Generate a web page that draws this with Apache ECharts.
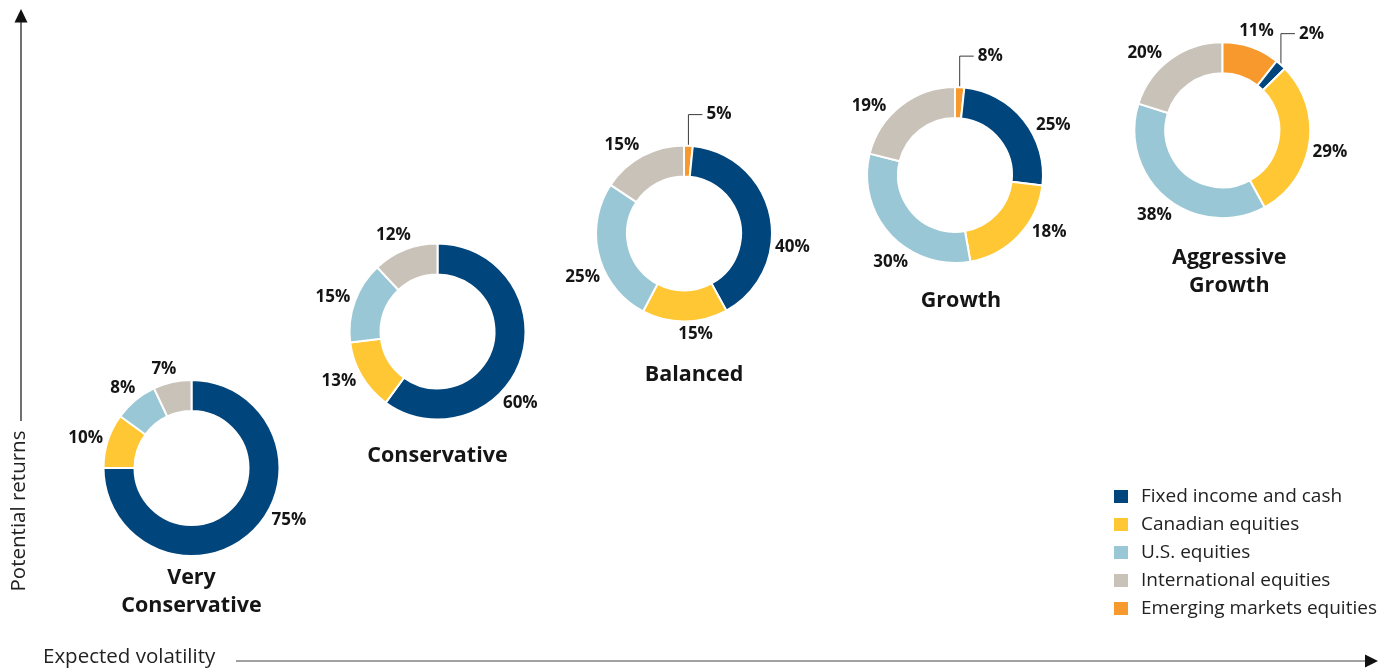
<!DOCTYPE html>
<html>
<head>
<meta charset="utf-8">
<script src="https://cdn.jsdelivr.net/npm/echarts@6/dist/echarts.min.js"></script>
<style>
html,body{margin:0;padding:0;background:#fff;}
#chart{width:1388px;height:669px;}
</style>
</head>
<body>
<div id="chart"></div>
<script>
// ---------------- DATA ----------------
const categories = ['Fixed income and cash', 'Canadian equities', 'U.S. equities', 'International equities', 'Emerging markets equities'];
const portfolios = ['Very\nConservative', 'Conservative', 'Balanced', 'Growth', 'Aggressive\nGrowth'];
// slice sizes (as drawn), in category order
const veryConservative = [75, 10, 8, 7, 0];
const conservative     = [60, 13, 15, 12, 0];
const balanced         = [40.4, 15.7, 26.6, 15.7, 1.6];
const growth           = [25.2, 20.3, 31.7, 21.1, 1.7];
const aggressiveGrowth = [2.0, 29.4, 37.9, 20.1, 10.6];
// printed labels, in category order
const veryConservativeLabels = ['75%', '10%', '8%', '7%', ''];
const conservativeLabels     = ['60%', '13%', '15%', '12%', ''];
const balancedLabels         = ['40%', '15%', '25%', '15%', '5%'];
const growthLabels           = ['25%', '18%', '30%', '19%', '8%'];
const aggressiveGrowthLabels = ['2%', '29%', '38%', '20%', '11%'];
const axisTitles = { y: 'Potential returns', x: 'Expected volatility' };

// ---------------- STYLE / LAYOUT ----------------
const colors = ['#00457C', '#FFC734', '#9AC7D5', '#C9C2B8', '#F7992C'];
const drawOrder = [4, 0, 1, 2, 3]; // emerging first, then fixed income, ...
const centers = [[191.5, 468], [437.5, 331.5], [684, 233.5], [955, 175], [1222.3, 130.3]];
const R_OUT = 88, R_IN = 57;
const titleTops = [564, 442, 361, 287, 244];
const titleShiftX = [0, 0, 10, 6, 7];
// label angle adjustments (deg, relative to slice middle), category order
const labelShift = [
  [-17, -2, -1, -3, 0],
  [23, 4, -1.6, -3, 0],
  [18.6, -6, -8.8, -6.8, 0],
  [11.5, -12, -10.5, -13.5, 0],
  [0, 3, -0.7, -9, 0]
];
// which category uses a callout line in each portfolio
const callout = [-1, -1, 4, 4, 0];
const FONT = '"Open Sans", Lato, sans-serif';

const sliceSets = [veryConservative, conservative, balanced, growth, aggressiveGrowth];
const labelSets = [veryConservativeLabels, conservativeLabels, balancedLabels, growthLabels, aggressiveGrowthLabels];

const chart = echarts.init(document.getElementById('chart'), null, { renderer: 'canvas' });

const series = sliceSets.map(function (vals, si) {
  const data = [];
  drawOrder.forEach(function (ci) {
    if (vals[ci] > 0) {
      const isCallout = callout[si] === ci;
      data.push({
        name: categories[ci],
        value: vals[ci],
        catIndex: ci,
        labelText: labelSets[si][ci],
        itemStyle: { color: colors[ci] },
        labelLine: { lineStyle: { opacity: isCallout ? 1 : 0 } }
      });
    }
  });
  return {
    type: 'pie',
    name: portfolios[si],
    center: centers[si],
    radius: [R_IN, R_OUT],
    startAngle: 90,
    clockwise: true,
    avoidLabelOverlap: false,
    animation: false,
    silent: true,
    itemStyle: { borderColor: '#ffffff', borderWidth: 2 },
    label: {
      show: true,
      position: 'outside',
      formatter: function (p) { return p.data.labelText; },
      fontFamily: FONT,
      fontWeight: 'bold',
      fontSize: 17,
      color: '#151515'
    },
    labelLine: { show: true, length: 10, length2: 0, lineStyle: { color: '#3a3a3a', width: 1 } },
    labelLayout: function (p) {
      const pts = p.labelLinePoints;
      if (!pts) return {};
      const c = centers[si];
      const dx = pts[0][0] - c[0], dy = pts[0][1] - c[1];
      const mid = Math.atan2(dx, -dy); // clockwise from top
      const item = series[si].data[p.dataIndex];
      const ci = item.catIndex;
      if (callout[si] === ci) {
        const x0 = c[0] + Math.sin(mid) * R_OUT, y0 = c[1] - Math.cos(mid) * R_OUT;
        const yTop = y0 - 31;
        const x1 = x0 + 14;
        return {
          x: x1 + 4, y: yTop, align: 'left', verticalAlign: 'middle',
          labelLinePoints: [[x0, y0], [x0, yTop], [x1, yTop]]
        };
      }
      const a = mid + labelShift[si][ci] * Math.PI / 180;
      const ux = Math.sin(a), uy = -Math.cos(a);
      const w = p.labelRect.width, h = p.labelRect.height;
      const ext = Math.abs(ux) * w / 2 + Math.abs(uy) * h / 2;
      const r = R_OUT + 3 + ext;
      return { x: c[0] + ux * r, y: c[1] + uy * r, align: 'center', verticalAlign: 'middle' };
    },
    data: data
  };
});

const graphics = [];
portfolios.forEach(function (name, i) {
  graphics.push({
    type: 'text',
    x: centers[i][0] + titleShiftX[i],
    y: titleTops[i],
    silent: true,
    style: {
      text: name,
      textAlign: 'center',
      textVerticalAlign: 'top',
      fontFamily: FONT,
      fontWeight: 'bold',
      fontSize: 21.5,
      lineHeight: 28,
      fill: '#151515'
    }
  });
});
// axes
graphics.push(
  { type: 'line', silent: true, shape: { x1: 21, y1: 421, x2: 21, y2: 20 }, style: { stroke: '#111', lineWidth: 1.2 } },
  { type: 'polygon', silent: true, shape: { points: [[14.5, 22.5], [27.5, 22.5], [21, 9]] }, style: { fill: '#111' } },
  { type: 'line', silent: true, shape: { x1: 236, y1: 661, x2: 1368, y2: 661 }, style: { stroke: '#444', lineWidth: 1.2 } },
  { type: 'polygon', silent: true, shape: { points: [[1365, 654.5], [1365, 667.5], [1378, 661]] }, style: { fill: '#111' } },
  {
    type: 'text', silent: true, x: 19, y: 511, rotation: Math.PI / 2,
    style: { text: axisTitles.y, textAlign: 'center', textVerticalAlign: 'middle', fontFamily: FONT, fontSize: 20.5, fill: '#222' }
  },
  {
    type: 'text', silent: true, x: 43, y: 657,
    style: { text: axisTitles.x, textAlign: 'left', textVerticalAlign: 'middle', fontFamily: FONT, fontSize: 20.5, fill: '#222' }
  }
);

chart.setOption({
  backgroundColor: '#ffffff',
  animation: false,
  legend: {
    orient: 'vertical',
    left: 1107,
    top: 482,
    icon: 'rect',
    itemWidth: 16,
    itemHeight: 15,
    itemGap: 9,
    selectedMode: false,
    data: categories,
    textStyle: { fontFamily: FONT, fontSize: 19, lineHeight: 18, color: '#222', padding: [0, 0, 0, 7] }
  },
  series: series,
  graphic: graphics
});
</script>
</body>
</html>
